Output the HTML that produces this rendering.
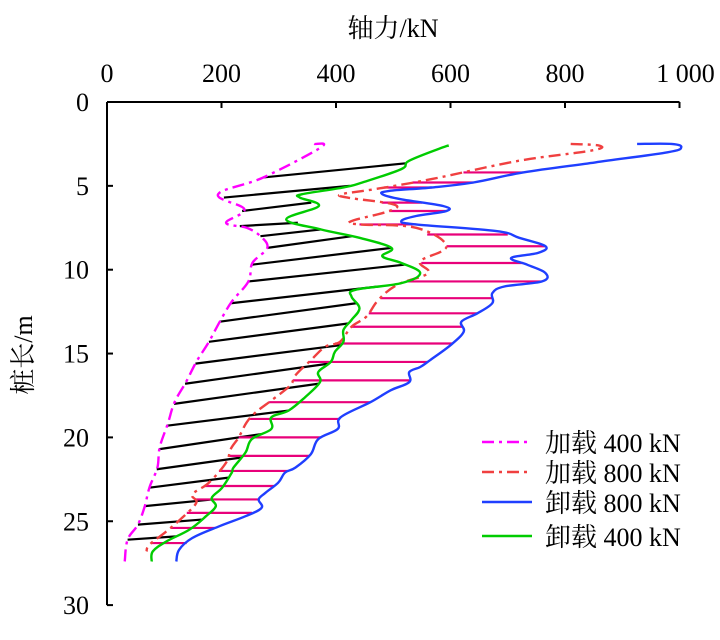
<!DOCTYPE html>
<html><head><meta charset="utf-8">
<style>
html,body{margin:0;padding:0;background:#fff;}
svg{display:block;font-family:"Liberation Serif","Noto Serif CJK SC","Noto Sans CJK SC",serif;}
</style></head>
<body>
<svg id="chart" width="720" height="640" viewBox="0 0 720 640" xmlns="http://www.w3.org/2000/svg">
<g id="axes"></g>
<g id="hatch"></g>
<g id="series"></g>
<g id="legend"></g>
</svg>
<script>
const xTicks = [0, 200, 400, 600, 800, 1000];
const xTickLabels = ["0", "200", "400", "600", "800", "1 000"];
const yTicks = [0, 5, 10, 15, 20, 25, 30];
const yTickLabels = ["0", "5", "10", "15", "20", "25", "30"];
const seriesNames = ["加载 400 kN", "加载 800 kN", "卸载 800 kN", "卸载 400 kN"];
// [force kN, depth m]
const load400 = [[362,2.5],[374,2.7],[273,4.5],[194,5.5],[240,6.4],[208,7.2],[244,7.5],[268,8.0],[280,8.7],[254,9.6],[247,10.7],[218,11.9],[197,13.1],[178,14.3],[156,15.5],[138,16.7],[118,17.9],[106,19.2],[92,20.6],[88,21.8],[74,23.0],[66,24.1],[54,25.2],[36,26.1],[31,27.4]];
const load800 = [[810,2.5],[860,2.6],[846,2.9],[720,3.5],[567,4.6],[467,5.2],[410,5.5],[420,5.7],[500,6.1],[493,6.5],[427,7.1],[441,7.3],[540,7.5],[593,8.6],[547,9.5],[561,10.2],[507,10.9],[474,11.8],[453,12.8],[427,13.4],[407,14.3],[381,14.6],[356,15.4],[329,16.3],[320,16.9],[287,17.8],[260,18.5],[244,19.1],[230,20.0],[216,20.7],[208,21.5],[178,22.7],[149,23.4],[156,23.9],[131,24.8],[104,25.6],[74,26.4],[69,26.8]];
const unload800 = [[926,2.5],[986,2.5],[1003,2.7],[979,3.0],[853,3.6],[727,4.2],[640,4.8],[567,5.1],[493,5.3],[481,5.5],[514,5.8],[587,6.2],[593,6.5],[540,6.8],[514,7.1],[540,7.3],[680,7.7],[720,8.1],[766,8.6],[753,9.0],[706,9.3],[734,9.7],[766,10.2],[760,10.7],[694,11.0],[673,11.4],[673,12.0],[647,12.6],[619,13.1],[623,13.7],[600,14.5],[564,15.4],[547,15.8],[528,16.1],[528,16.7],[495,17.2],[460,17.9],[408,18.8],[403,19.5],[369,20.1],[356,21.0],[329,21.8],[311,22.1],[299,22.7],[277,23.3],[265,23.7],[270,24.2],[242,24.7],[196,25.3],[149,26.0],[126,26.7],[121,27.4]];
const unload400 = [[597,2.6],[587,2.7],[528,3.5],[514,4.0],[446,4.8],[413,5.1],[341,5.5],[337,5.7],[370,6.2],[313,7.0],[374,7.6],[441,8.1],[497,8.7],[481,9.2],[514,9.6],[547,10.2],[514,10.8],[434,11.2],[427,11.6],[441,12.3],[427,13.0],[413,13.6],[413,14.3],[398,14.9],[391,15.5],[369,16.1],[372,16.7],[346,17.6],[317,18.4],[287,18.8],[287,19.5],[253,20.1],[242,20.9],[221,21.8],[218,22.1],[201,23.0],[183,23.6],[190,24.1],[173,24.7],[144,25.5],[104,26.2],[80,26.8],[78,27.4]];
// black hatch: [depth on load400, depth on unload400]
const blackHatch = [[4.5,3.65],[5.7,5.0],[6.5,6.0],[7.4,7.2],[8.0,7.6],[8.7,8.0],[9.7,8.7],[10.7,9.7],[12.0,11.0],[13.1,12.0],[14.3,13.2],[15.6,14.5],[16.8,15.6],[18.0,16.8],[19.3,18.4],[20.7,19.8],[21.9,21.2],[23.0,22.4],[24.1,23.7],[25.2,24.9],[26.1,25.9]];
// pink hatch depths (load800 -> unload800)
const pinkHatch = [4.2,4.8,5.1,6.0,6.5,7.3,7.9,8.6,9.6,10.7,11.7,12.6,13.4,14.4,15.5,16.6,17.9,18.9,20.0,21.1,22.0,22.9,23.7,24.5,25.4,26.3];

const X0=107, XS=0.5725, Y0=102, YS=16.77;
const sx = v => X0 + v*XS;
const sy = d => Y0 + d*YS;
const NS="http://www.w3.org/2000/svg";
function mk(tag, attrs, parent){const e=document.createElementNS(NS,tag);for(const k in attrs)e.setAttribute(k,attrs[k]);parent.appendChild(e);return e;}
function interp(curve, d){
  let best=null;
  for(let i=0;i<curve.length-1;i++){
    const a=curve[i], b=curve[i+1];
    const lo=Math.min(a[1],b[1]), hi=Math.max(a[1],b[1]);
    if(d>=lo && d<=hi){const t=hi===lo?0:(d-a[1])/(b[1]-a[1]);best=a[0]+t*(b[0]-a[0]);}
  }
  if(best===null) best = d<curve[0][1]?curve[0][0]:curve[curve.length-1][0];
  return best;
}
function smoothPath(pts){
  let d='M'+pts[0][0].toFixed(1)+' '+pts[0][1].toFixed(1);
  for(let i=0;i<pts.length-1;i++){
    const p0=pts[i-1]||pts[i], p1=pts[i], p2=pts[i+1], p3=pts[i+2]||p2;
    const k=0.18;
    const c1=[p1[0]+(p2[0]-p0[0])*k, p1[1]+(p2[1]-p0[1])*k];
    const c2=[p2[0]-(p3[0]-p1[0])*k, p2[1]-(p3[1]-p1[1])*k];
    d+=' C'+c1[0].toFixed(1)+' '+c1[1].toFixed(1)+' '+c2[0].toFixed(1)+' '+c2[1].toFixed(1)+' '+p2[0].toFixed(1)+' '+p2[1].toFixed(1);
  }
  return d;
}
const axes=document.getElementById('axes');
let ax=mk('line',{x1:X0,y1:Y0,x2:sx(1000),y2:Y0,stroke:'#000','stroke-width':2},axes);


let ay=mk('line',{x1:X0,y1:Y0,x2:X0,y2:sy(30),stroke:'#000','stroke-width':2},axes);


xTicks.forEach((v,i)=>{
  const t=mk('line',{x1:sx(v),y1:Y0,x2:sx(v),y2:Y0+6,stroke:'#000','stroke-width':2},axes);
  
  
  const l=mk('text',{x:sx(v)+(i===xTickLabels.length-1?6:0),y:82,'font-size':26,'text-anchor':'middle'},axes);
  l.textContent=xTickLabels[i];
  
  
});
yTicks.forEach((v,i)=>{
  if(v>0){const t=mk('line',{x1:X0,y1:sy(v),x2:X0+6,y2:sy(v),stroke:'#000','stroke-width':2},axes);
  
  }
  const l=mk('text',{x:89,y:sy(v)+9,'font-size':26,'text-anchor':'end'},axes);
  l.textContent=yTickLabels[i];
  
  
});
const xt=mk('text',{x:393,y:37,'font-size':26,'text-anchor':'middle'},axes);
xt.textContent='轴力/kN';


const yt=mk('text',{x:0,y:0,'font-size':26,'text-anchor':'middle',transform:'translate(32,355) rotate(-90)'},axes);
yt.textContent='桩长/m';



const hatch=document.getElementById('hatch');
blackHatch.forEach(h=>{
  const l=mk('line',{x1:sx(interp(load400,h[0])),y1:sy(h[0]),x2:sx(interp(unload400,h[1])),y2:sy(h[1]),stroke:'#000','stroke-width':2.2},hatch);
  
  
});
pinkHatch.forEach(d=>{
  const l=mk('line',{x1:sx(interp(load800,d)),y1:sy(d),x2:sx(interp(unload800,d)),y2:sy(d),stroke:'#e8007a','stroke-width':2.2},hatch);
  
  
});

const seriesG=document.getElementById('series');
const styles=[
  {data:load400,color:'#ff00ff',dash:'12 5 3 5',name:'load-400-line'},
  {data:load800,color:'#f04040',dash:'12 5 3 5',name:'load-800-line'},
  {data:unload800,color:'#1f3fff',dash:'',name:'unload-800-line'},
  {data:unload400,color:'#00cc00',dash:'',name:'unload-400-line'}];
styles.forEach(s=>{
  const d=smoothPath(s.data.map(p=>[sx(p[0]),sy(p[1])]));
  const p=mk('path',{d:d,fill:'none',stroke:s.color,'stroke-width':2.4,'stroke-linejoin':'round','stroke-dasharray':s.dash},seriesG);
  
  
});

const leg=document.getElementById('legend');
const legY=[442,472,502,536];
styles.forEach((s,i)=>{
  const l=mk('line',{x1:482,y1:legY[i],x2:532,y2:legY[i],stroke:s.color,'stroke-width':2.4,'stroke-dasharray':s.dash},leg);
  
  
  const t=mk('text',{x:545,y:legY[i]+10,'font-size':26},leg);
  t.textContent=seriesNames[i];
  
  
});
</script>
</body></html>
